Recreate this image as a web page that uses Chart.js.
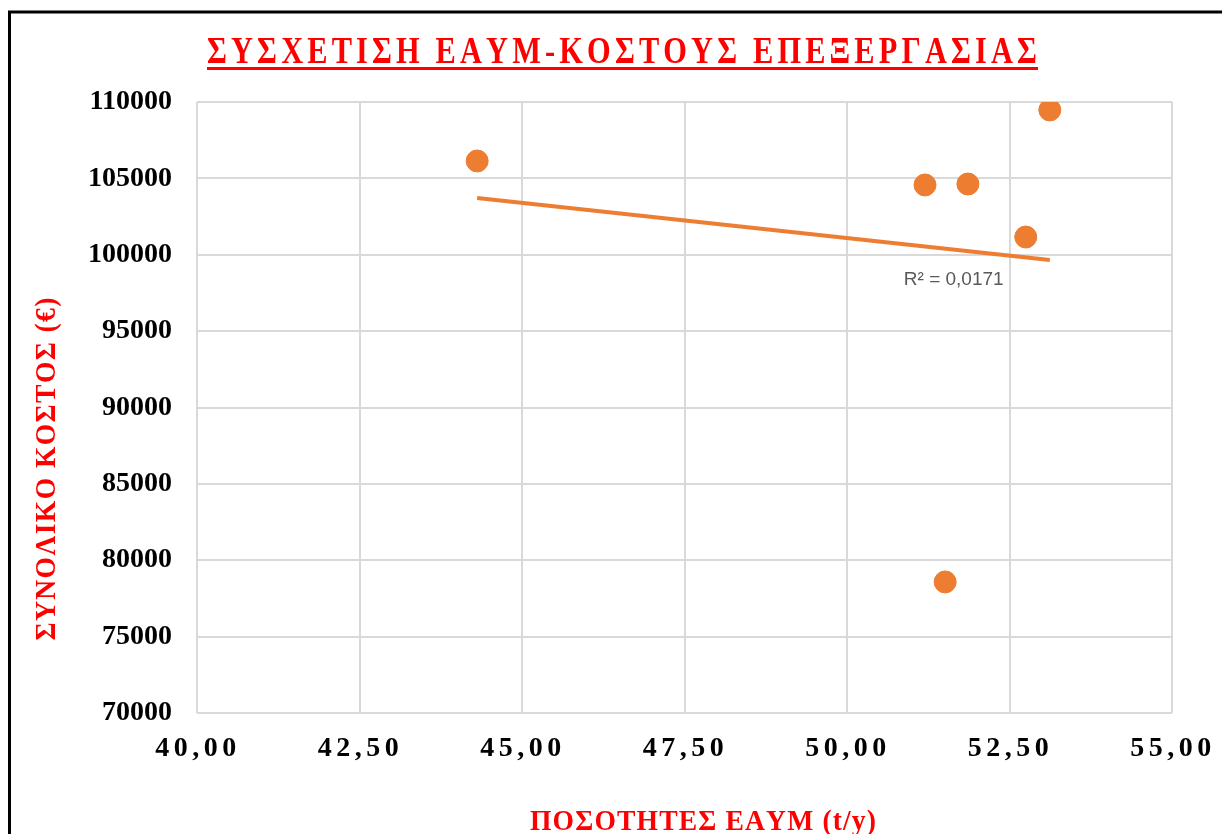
<!DOCTYPE html>
<html>
<head>
<meta charset="utf-8">
<script src="https://cdn.jsdelivr.net/npm/chart.js@4.4.1/dist/chart.umd.min.js"></script>
<style>
  html, body { margin: 0; padding: 0; background: #fff; }
  canvas { display: block; }
</style>
</head>
<body>
<canvas id="chart" width="1222" height="834"></canvas>
<script>
// quantities (t/y) and total cost (€) per plant
const quantities = [44.31, 51.20, 51.86, 52.75, 53.12, 51.51];
const totalCost = [106140, 104570, 104630, 101160, 109480, 78580];

// linear trendline ends as shown on the chart
const trendX = [44.31, 53.12];
const trendY = [103720, 99660];
const rSquared = '0,0171';

const xTicks = [40, 42.5, 45, 47.5, 50, 52.5, 55];
const yTicks = [70000, 75000, 80000, 85000, 90000, 95000, 100000, 105000, 110000];

const chartTitle = 'ΣΥΣΧΕΤΙΣΗ ΕΑΥΜ-ΚΟΣΤΟΥΣ ΕΠΕΞΕΡΓΑΣΙΑΣ';
const xTitle = 'ΠΟΣΟΤΗΤΕΣ ΕΑΥΜ (t/y)';
const yTitle = 'ΣΥΝΟΛΙΚΟ ΚΟΣΤΟΣ (€)';

const orange = '#ED7D31';
const red = '#FF0000';
const serif = '"Liberation Serif", "Times New Roman", serif';

// draw text char by char, squeezed and spaced to fill a given width
function fitText(ctx, text, cx, cy, width, font, squeeze) {
  ctx.save();
  ctx.font = font;
  ctx.textAlign = 'left';
  ctx.textBaseline = 'alphabetic';
  const chars = Array.from(text);
  const widths = chars.map(ch => ctx.measureText(ch).width * squeeze);
  const natural = widths.reduce((a, b) => a + b, 0);
  const gap = (width - natural) / (chars.length - 1);
  ctx.translate(cx - width / 2, cy);
  let x = 0;
  chars.forEach((ch, i) => {
    ctx.save();
    ctx.translate(x, 0);
    ctx.scale(squeeze, 1);
    ctx.fillText(ch, 0, 0);
    ctx.restore();
    x += widths[i] + gap;
  });
  ctx.restore();
}

const decorations = {
  id: 'decorations',
  afterDraw(chart) {
    const ctx = chart.ctx;
    const xs = chart.scales.x;
    const ys = chart.scales.y;

    // frame
    ctx.save();
    ctx.strokeStyle = '#000';
    ctx.lineWidth = 3;
    ctx.beginPath();
    ctx.moveTo(9.5, 834);
    ctx.lineTo(9.5, 12);
    ctx.lineTo(1222, 12);
    ctx.stroke();
    ctx.restore();

    // title with underline
    ctx.save();
    ctx.fillStyle = red;
    fitText(ctx, chartTitle, 622, 63, 830, 'bold 38px ' + serif, 0.8);
    ctx.fillRect(207, 67, 831, 3);

    // axis titles
    fitText(ctx, xTitle, 703, 830, 346, 'bold 30px ' + serif, 0.92);
    ctx.translate(55, 469);
    ctx.rotate(-Math.PI / 2);
    fitText(ctx, yTitle, 0, 0, 343, 'bold 30px ' + serif, 0.92);
    ctx.restore();

    // x tick labels, spaced out
    ctx.save();
    ctx.fillStyle = '#000';
    ctx.font = 'bold 28px ' + serif;
    ctx.letterSpacing = '4.5px';
    ctx.textAlign = 'center';
    ctx.textBaseline = 'middle';
    xTicks.forEach(v => {
      const label = v.toFixed(2).replace('.', ',');
      ctx.fillText(label, xs.getPixelForValue(v) + 1, 749);
    });
    ctx.restore();

    // R² label under the trendline end
    ctx.save();
    ctx.fillStyle = '#595959';
    ctx.font = '19px "Liberation Sans", Arial, sans-serif';
    ctx.textAlign = 'left';
    ctx.textBaseline = 'middle';
    const lx = xs.getPixelForValue(trendX[1]) - 146;
    const ly = ys.getPixelForValue(trendY[1]) + 20;
    ctx.fillText('R² = ' + rSquared, lx, ly);
    ctx.restore();
  }
};

const ctx = document.getElementById('chart').getContext('2d');
new Chart(ctx, {
  type: 'scatter',
  data: {
    datasets: [
      {
        type: 'line',
        data: trendX.map((x, i) => ({ x: x, y: trendY[i] })),
        borderColor: orange,
        borderWidth: 4,
        pointRadius: 0,
        fill: false,
        order: 1
      },
      {
        data: quantities.map((x, i) => ({ x: x, y: totalCost[i] })),
        backgroundColor: orange,
        borderColor: orange,
        pointRadius: 11,
        pointHoverRadius: 11,
        order: 2
      }
    ]
  },
  options: {
    responsive: false,
    animation: false,
    devicePixelRatio: 1,
    layout: { padding: { top: 102, right: 50, left: 0, bottom: 0 } },
    plugins: {
      legend: { display: false },
      tooltip: { enabled: false }
    },
    scales: {
      x: {
        type: 'linear',
        min: 40,
        max: 55,
        afterBuildTicks: s => { s.ticks = xTicks.map(v => ({ value: v })); },
        afterFit: s => { s.height = 121; },
        ticks: { display: false },
        grid: { color: '#d9d9d9', lineWidth: 2, drawTicks: false },
        border: { display: false }
      },
      y: {
        min: 70000,
        max: 110000,
        afterBuildTicks: s => { s.ticks = yTicks.map(v => ({ value: v })); },
        afterFit: s => { s.width = 197; },
        ticks: {
          color: '#000',
          padding: 25,
          font: { family: serif, size: 28, weight: 'bold' },
          callback: v => String(v)
        },
        grid: { color: '#d9d9d9', lineWidth: 2, drawTicks: false },
        border: { display: false }
      }
    }
  },
  plugins: [decorations]
});
</script>
</body>
</html>
